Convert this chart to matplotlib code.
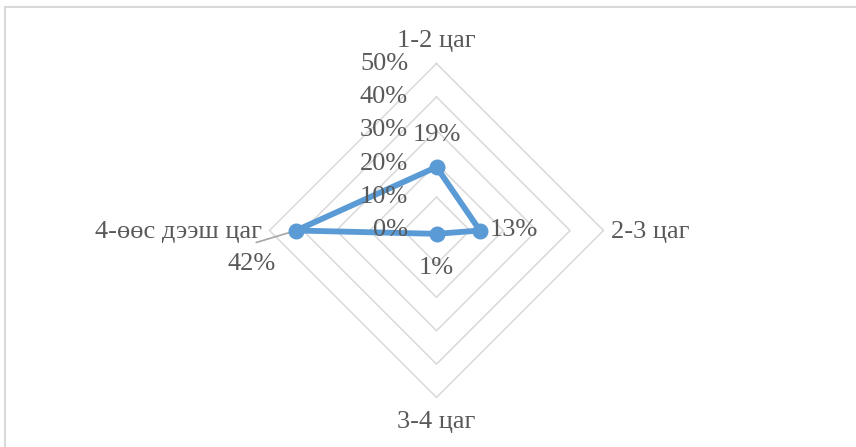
import numpy as np
import matplotlib
matplotlib.use("Agg")
import matplotlib.pyplot as plt
from matplotlib.lines import Line2D

categories = ["1-2 цаг", "2-3 цаг", "3-4 цаг", "4-өөс дээш цаг"]
values = [0.19, 0.13, 0.01, 0.42]
value_labels = ["19%", "13%", "1%", "42%"]
grid_levels = [0.1, 0.2, 0.3, 0.4, 0.5]
tick_levels = [0.0, 0.1, 0.2, 0.3, 0.4, 0.5]
tick_labels = ["0%", "10%", "20%", "30%", "40%", "50%"]

plt.rcParams['font.family'] = ['Liberation Serif', 'DejaVu Serif']
TXT = '#595959'
GRID = '#d9d9d9'
LINE = '#5b9bd5'
FS = 19

W, H = 856, 447
fig = plt.figure(figsize=(W / 100, H / 100), dpi=100)
cx, cy = 436.5, H - 230.5
half = 200
ax = fig.add_axes([(cx - half) / W, (cy - half) / H, 2 * half / W, 2 * half / H])
lim = half / 334.0
ax.set_xlim(-lim, lim)
ax.set_ylim(-lim, lim)
ax.set_aspect('equal')
ax.axis('off')

# chart border (top & left visible)
fig.add_artist(Line2D([5 / W, 5 / W], [0, 1 - 7 / H], color=GRID, lw=1.5, transform=fig.transFigure))
fig.add_artist(Line2D([5 / W, 1], [1 - 7 / H, 1 - 7 / H], color=GRID, lw=1.5, transform=fig.transFigure))

n = len(categories)
angles = np.pi / 2 - np.arange(n) * 2 * np.pi / n

def xy(r):
    r = np.asarray(r)
    return r * np.cos(angles), r * np.sin(angles)

for g in grid_levels:
    gx, gy = xy([g] * n)
    ax.plot(np.append(gx, gx[0]), np.append(gy, gy[0]), color=GRID, lw=1.1, zorder=1)

# data series
dx, dy = xy(values)
ax.plot(np.append(dx, dx[0]), np.append(dy, dy[0]), color=LINE, lw=4.2, zorder=3,
        solid_joinstyle='round')
ax.plot(dx, dy, 'o', color=LINE, ms=10.5, zorder=4)

# radial tick labels
for t, lab in zip(tick_levels, tick_labels):
    ax.text(-0.085, t, lab, ha='right', va='center', fontsize=FS, color=TXT, zorder=5)

# category labels
ax.text(0, 0.566, categories[0], ha='center', va='center', fontsize=FS, color=TXT, clip_on=False)
ax.text(0.523, -0.005, categories[1], ha='left', va='center', fontsize=FS, color=TXT, clip_on=False)
ax.text(0, -0.572, categories[2], ha='center', va='center', fontsize=FS, color=TXT, clip_on=False)
ax.text(-0.522, -0.005, categories[3], ha='right', va='center', fontsize=FS, color=TXT, clip_on=False)

# data labels (offsets in pixels, converted to points)
pt = 72 / 100
offsets = [(0, 32), (10, 0), (0, -34), (-45, -33)]
aligns = [('center', 'center'), ('left', 'center'), ('center', 'center'), ('center', 'center')]
for i in range(n):
    ox, oy = offsets[i]
    ax.annotate(value_labels[i], (dx[i], dy[i]), xytext=(ox * pt, oy * pt),
                textcoords='offset points', ha=aligns[i][0], va=aligns[i][1],
                fontsize=FS, color=TXT, zorder=6)

# leader line for 42% label
ax.annotate('', (dx[3], dy[3]), xytext=(-40 * pt, -12 * pt), textcoords='offset points',
            arrowprops=dict(arrowstyle='-', color='#a6a6a6', lw=1.2, shrinkA=0, shrinkB=2))

fig.savefig('out.png', dpi=100)
